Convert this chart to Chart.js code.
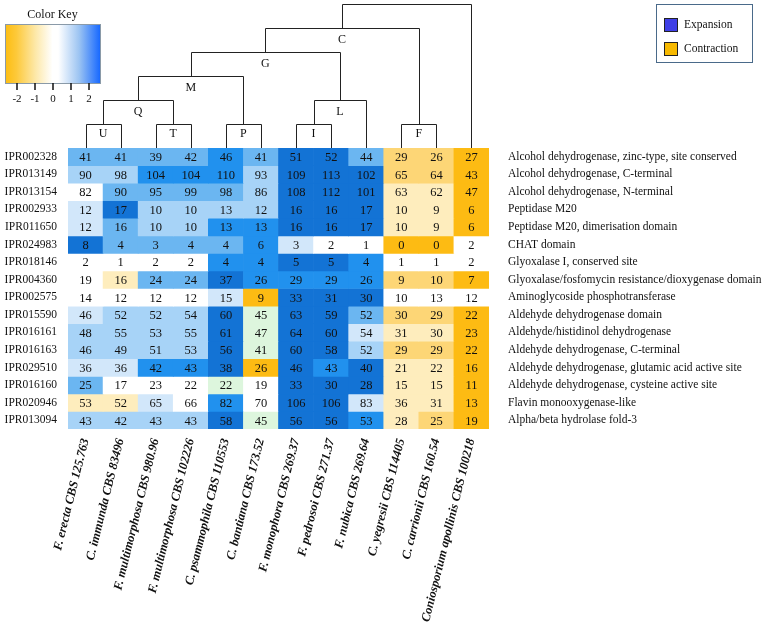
<!DOCTYPE html>
<html>
<head>
<meta charset="utf-8">
<script src="https://cdn.jsdelivr.net/npm/chart.js@4"></script>
<style>
  body { margin: 0; background: #fff; }
  #wrap { width: 774px; height: 631px; position: relative; }
</style>
</head>
<body>
<div id="wrap"><canvas id="heatmap"></canvas></div>
<script>
const columns = [
  "F. erecta CBS 125.763", "C. immunda CBS 83496", "F. multimorphosa CBS 980.96",
  "F. multimorphosa CBS 102226", "C. psammophila CBS 110553", "C. bantiana CBS 173.52",
  "F. monophora CBS 269.37", "F. pedrosoi CBS 271.37", "F. nubica CBS 269.64",
  "C. yegresii CBS 114405", "C. carrionii CBS 160.54", "Coniosporium apollinis CBS 100218"
];

const rowIds = [
  "IPR002328", "IPR013149", "IPR013154", "IPR002933", "IPR011650", "IPR024983",
  "IPR018146", "IPR004360", "IPR002575", "IPR015590", "IPR016161", "IPR016163",
  "IPR029510", "IPR016160", "IPR020946", "IPR013094"
];

const rowNames = [
  "Alcohol dehydrogenase, zinc-type, site conserved",
  "Alcohol dehydrogenase, C-terminal",
  "Alcohol dehydrogenase, N-terminal",
  "Peptidase M20",
  "Peptidase M20, dimerisation domain",
  "CHAT domain",
  "Glyoxalase I, conserved site",
  "Glyoxalase/fosfomycin resistance/dioxygenase domain",
  "Aminoglycoside phosphotransferase",
  "Aldehyde dehydrogenase domain",
  "Aldehyde/histidinol dehydrogenase",
  "Aldehyde dehydrogenase, C-terminal",
  "Aldehyde dehydrogenase, glutamic acid active site",
  "Aldehyde dehydrogenase, cysteine active site",
  "Flavin monooxygenase-like",
  "Alpha/beta hydrolase fold-3"
];

// gene counts per row (one value per column)
const counts = [
  [41, 41, 39, 42, 46, 41, 51, 52, 44, 29, 26, 27],
  [90, 98, 104, 104, 110, 93, 109, 113, 102, 65, 64, 43],
  [82, 90, 95, 99, 98, 86, 108, 112, 101, 63, 62, 47],
  [12, 17, 10, 10, 13, 12, 16, 16, 17, 10, 9, 6],
  [12, 16, 10, 10, 13, 13, 16, 16, 17, 10, 9, 6],
  [8, 4, 3, 4, 4, 6, 3, 2, 1, 0, 0, 2],
  [2, 1, 2, 2, 4, 4, 5, 5, 4, 1, 1, 2],
  [19, 16, 24, 24, 37, 26, 29, 29, 26, 9, 10, 7],
  [14, 12, 12, 12, 15, 9, 33, 31, 30, 10, 13, 12],
  [46, 52, 52, 54, 60, 45, 63, 59, 52, 30, 29, 22],
  [48, 55, 53, 55, 61, 47, 64, 60, 54, 31, 30, 23],
  [46, 49, 51, 53, 56, 41, 60, 58, 52, 29, 29, 22],
  [36, 36, 42, 43, 38, 26, 46, 43, 40, 21, 22, 16],
  [25, 17, 23, 22, 22, 19, 33, 30, 28, 15, 15, 11],
  [53, 52, 65, 66, 82, 70, 106, 106, 83, 36, 31, 13],
  [43, 42, 43, 43, 58, 45, 56, 56, 53, 28, 25, 19]
];

// colour level of each cell (-3 strong contraction .. 5 strong expansion)
const levels = [
  [3, 3, 3, 3, 4, 3, 5, 5, 3, -2, -2, -3],
  [2, 2, 4, 4, 4, 2, 5, 5, 5, -2, -2, -3],
  [0, 3, 3, 3, 3, 2, 5, 5, 5, -1, -1, -3],
  [1, 5, 2, 2, 2, 2, 5, 5, 5, -1, -1, -3],
  [1, 3, 2, 2, 4, 4, 5, 5, 5, -1, -1, -3],
  [5, 3, 3, 3, 3, 4, 1, 0, 0, -3, -3, 0],
  [0, 0, 0, 0, 4, 4, 5, 5, 4, 0, 0, 0],
  [0, -1, 3, 3, 5, 4, 4, 4, 4, -2, -2, -3],
  [0, 0, 0, 0, 1, -3, 5, 5, 5, 0, 0, 0],
  [1, 2, 2, 2, 5, -0.5, 5, 5, 3, -2, -2, -3],
  [2, 2, 2, 2, 5, -0.5, 5, 5, 1, -1, -1, -3],
  [2, 2, 2, 2, 5, -0.5, 5, 5, 2, -2, -2, -3],
  [1, 1, 4, 4, 5, -3, 5, 4, 5, -1, -1, -3],
  [3, 0, 0, 0, -0.5, 0, 5, 5, 5, -1, -1, -3],
  [-1, -1, 1, 0, 4, 0, 5, 5, 1, -1, -1, -3],
  [2, 2, 2, 2, 5, -0.5, 5, 5, 4, -1, -2, -3]
];

// dendrogram: kids are column indices or names of other nodes, level = merge height
const dendroNodes = [
  { name: "U", kids: [0, 1], level: 1 },
  { name: "T", kids: [2, 3], level: 1 },
  { name: "P", kids: [4, 5], level: 1 },
  { name: "I", kids: [6, 7], level: 1 },
  { name: "F", kids: [9, 10], level: 1 },
  { name: "Q", kids: ["U", "T"], level: 2 },
  { name: "L", kids: ["I", 8], level: 2 },
  { name: "M", kids: ["Q", "P"], level: 3 },
  { name: "G", kids: ["M", "L"], level: 4 },
  { name: "C", kids: ["G", "F"], level: 5 },
  { name: "", kids: ["C", 11], level: 6 }
];

const keyTicks = [-2, -1, 0, 1, 2];
const legendLabels = ["Expansion", "Contraction"];

const palette = {
  "-3": "#fdbb13", "-2": "#fdd676", "-1": "#feedbd", "-0.5": "#ddf6dd",
  "0": "#ffffff", "1": "#d2e7fa", "2": "#a7d3f7", "3": "#6bb6f1",
  "4": "#2191ee", "5": "#1373d5"
};
const legendColors = ["#3f3fe6", "#f7b900"];
const SERIF = "'Liberation Serif', 'Times New Roman', serif";

const datasets = rowIds.map((id, r) => ({
  label: id,
  data: columns.map(() => [r, r + 1]),
  backgroundColor: levels[r].map((l) => palette[String(l)]),
  borderWidth: 0,
  barPercentage: 1,
  categoryPercentage: 1,
  grouped: false,
}));

const cellText = {
  id: "cellText",
  afterDatasetsDraw(chart) {
    const ctx = chart.ctx;
    ctx.save();
    ctx.font = "12.5px " + SERIF;
    ctx.fillStyle = "#111";
    ctx.textAlign = "center";
    ctx.textBaseline = "middle";
    counts.forEach((row, r) => {
      chart.getDatasetMeta(r).data.forEach((bar, c) => {
        const p = bar.getCenterPoint();
        ctx.fillText(String(row[c]), p.x, p.y + 1);
      });
    });
    ctx.restore();
  },
};

const dendrogram = {
  id: "dendrogram",
  afterDraw(chart) {
    const ctx = chart.ctx;
    const xs = chart.scales.x;
    const top = chart.chartArea.top;
    const step = 24;
    const pos = {};
    const where = (k) =>
      typeof k === "number" ? { x: xs.getPixelForValue(k), y: top } : pos[k];
    ctx.save();
    ctx.strokeStyle = "#222";
    ctx.lineWidth = 1;
    ctx.font = "12px " + SERIF;
    ctx.fillStyle = "#111";
    ctx.textAlign = "center";
    ctx.textBaseline = "middle";
    dendroNodes.forEach((n) => {
      const a = where(n.kids[0]);
      const b = where(n.kids[1]);
      const y = Math.round(top - step * n.level) + 0.5;
      const xa = Math.round(a.x) + 0.5;
      const xb = Math.round(b.x) + 0.5;
      ctx.beginPath();
      ctx.moveTo(xa, a.y);
      ctx.lineTo(xa, y);
      ctx.lineTo(xb, y);
      ctx.lineTo(xb, b.y);
      ctx.stroke();
      const mid = (a.x + b.x) / 2;
      pos[n.name || "root"] = { x: mid, y: y };
      if (n.name) ctx.fillText(n.name, mid, y + (n.level === 1 ? 9 : 11));
    });
    ctx.restore();
  },
};

const colorKey = {
  id: "colorKey",
  afterDraw(chart) {
    const ctx = chart.ctx;
    const x0 = 5, y0 = 24, w = 95, h = 59;
    const zero = 53, unit = 18;
    ctx.save();
    ctx.font = "12px " + SERIF;
    ctx.fillStyle = "#111";
    ctx.textAlign = "center";
    ctx.textBaseline = "middle";
    ctx.fillText("Color Key", x0 + w / 2, 15);
    const g = ctx.createLinearGradient(x0, 0, x0 + w, 0);
    g.addColorStop(0, "#fdbd10");
    g.addColorStop(0.12, "#fdc93a");
    g.addColorStop(0.32, "#fde8a8");
    g.addColorStop(0.5, "#ffffff");
    g.addColorStop(0.56, "#ffffff");
    g.addColorStop(0.78, "#9cc4f2");
    g.addColorStop(1, "#1869ff");
    ctx.fillStyle = g;
    ctx.fillRect(x0, y0, w, h);
    ctx.strokeStyle = "#8a9aa8";
    ctx.strokeRect(x0 + 0.5, y0 + 0.5, w, h);
    ctx.strokeStyle = "#111";
    ctx.lineWidth = 1.5;
    ctx.font = "11px " + SERIF;
    ctx.fillStyle = "#111";
    keyTicks.forEach((t) => {
      const x = zero + t * unit;
      ctx.beginPath();
      ctx.moveTo(x, y0 + h);
      ctx.lineTo(x, y0 + h + 7);
      ctx.stroke();
      ctx.fillText(String(t), x, y0 + h + 16);
    });
    ctx.restore();
  },
};

const legendBox = {
  id: "legendBox",
  afterDraw(chart) {
    const ctx = chart.ctx;
    ctx.save();
    ctx.strokeStyle = "#4a6a8a";
    ctx.lineWidth = 1;
    ctx.strokeRect(656.5, 4.5, 96, 58);
    ctx.font = "11.5px " + SERIF;
    ctx.textAlign = "left";
    ctx.textBaseline = "middle";
    legendLabels.forEach((lab, i) => {
      const y = 25 + i * 24;
      ctx.fillStyle = legendColors[i];
      ctx.fillRect(664, y - 7, 14, 14);
      ctx.strokeStyle = "#222";
      ctx.strokeRect(664.5, y - 6.5, 13, 13);
      ctx.fillStyle = "#111";
      ctx.fillText(lab, 684, y);
    });
    ctx.restore();
  },
};

new Chart(document.getElementById("heatmap"), {
  type: "bar",
  data: { labels: columns, datasets },
  options: {
    responsive: true,
    maintainAspectRatio: false,
    animation: false,
    layout: { padding: { top: 148, left: 0, right: 0, bottom: 0 } },
    plugins: {
      legend: { display: false },
      tooltip: { enabled: false },
    },
    scales: {
      x: {
        grid: { display: false, drawTicks: false },
        border: { display: false },
        ticks: {
          color: "#111",
          autoSkip: false,
          minRotation: 76,
          maxRotation: 76,
          padding: 8,
          font: { family: SERIF, size: 12.5, style: "italic", weight: "bold" },
        },
        afterFit(s) { s.height = 202; },
      },
      y: {
        min: 0,
        max: 16,
        reverse: true,
        grid: { display: false, drawTicks: false },
        border: { display: false },
        afterBuildTicks(s) { s.ticks = rowIds.map((_, i) => ({ value: i + 0.5 })); },
        ticks: {
          color: "#111",
          autoSkip: false,
          padding: 11,
          font: { family: SERIF, size: 11.5 },
          callback: (v, i) => rowIds[i],
        },
        afterFit(s) { s.width = 68; },
      },
      y2: {
        position: "right",
        min: 0,
        max: 16,
        reverse: true,
        grid: { display: false, drawTicks: false },
        border: { display: false },
        afterBuildTicks(s) { s.ticks = rowNames.map((_, i) => ({ value: i + 0.5 })); },
        ticks: {
          color: "#111",
          autoSkip: false,
          padding: 19,
          font: { family: SERIF, size: 11.5 },
          callback: (v, i) => rowNames[i],
        },
        afterFit(s) { s.width = 285; },
      },
    },
  },
  plugins: [cellText, dendrogram, colorKey, legendBox],
});
</script>
</body>
</html>
